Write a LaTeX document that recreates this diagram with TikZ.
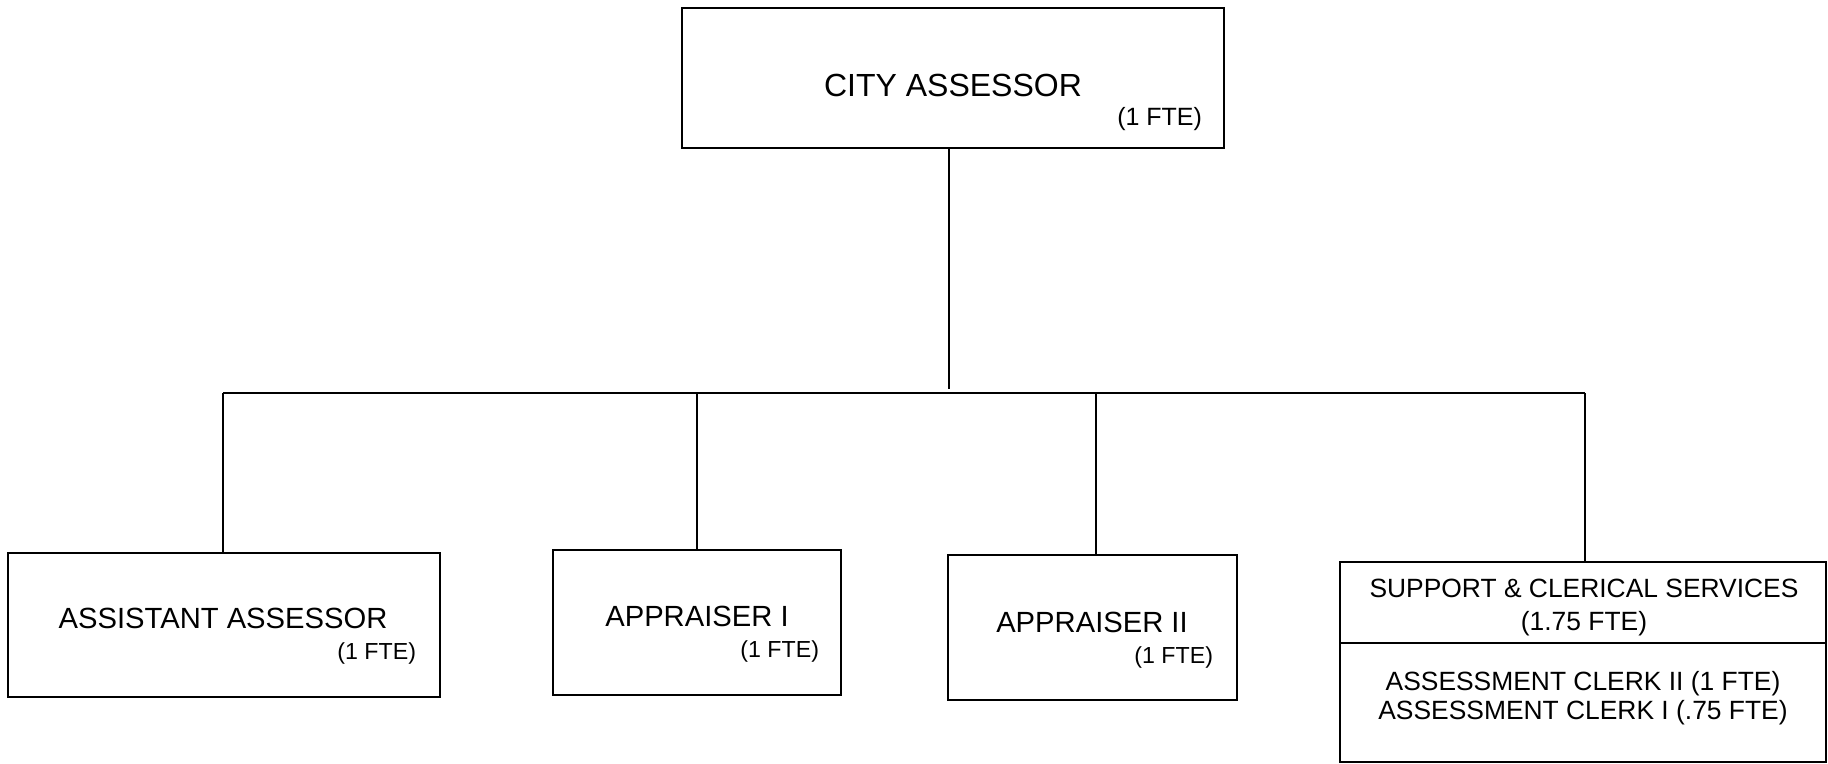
\documentclass[tikz,border=0pt]{standalone}
\usepackage{fontspec}
\setmainfont{Liberation Sans}
\begin{document}
\begin{tikzpicture}[x=0.5pt,y=-0.5pt,line width=1pt,
  box/.style={draw,rectangle,inner sep=0pt,line width=1pt},
  lbl/.style={inner sep=0pt,anchor=base},
  lble/.style={inner sep=0pt,anchor=base east},
  bigf/.style={font=\fontsize{16}{19}\selectfont},
  midf/.style={font=\fontsize{14.6}{17}\selectfont},
  supf/.style={font=\fontsize{13.2}{16}\selectfont},
  fteA/.style={font=\fontsize{12.5}{15}\selectfont},
  fteB/.style={font=\fontsize{11.6}{14}\selectfont}]
\useasboundingbox (0,0) rectangle (1828,764);
% boxes
\node[box,minimum width=271pt,minimum height=70pt] (city) at (953,78) {};
\node[box,minimum width=216pt,minimum height=72pt] (assist) at (224,625) {};
\node[box,minimum width=144pt,minimum height=72.5pt] (appI) at (697,622.5) {};
\node[box,minimum width=144.5pt,minimum height=72.5pt] (appII) at (1092.5,627.5) {};
\node[box,minimum width=243pt,minimum height=100pt] (sup) at (1583,662) {};
\draw (sup.west |- 0,643) -- (sup.east |- 0,643);
% texts
\node[lbl,bigf] (cityT) at (953,97) {CITY ASSESSOR};
\node[lble,fteA] (cityF) at (1203,126) {(1 FTE)};
\node[lbl,midf] (assistT) at (223,629) {ASSISTANT ASSESSOR};
\node[lble,fteB] (assistF) at (417,660) {(1 FTE)};
\node[lbl,midf] (appIT) at (697,627) {APPRAISER I};
\node[lble,fteB] (appIF) at (820,658) {(1 FTE)};
\node[lbl,midf] (appIIT) at (1092,633) {APPRAISER II};
\node[lble,fteB] (appIIF) at (1214,664) {(1 FTE)};
\node[lbl,supf] (supT1) at (1584,598) {SUPPORT \& CLERICAL SERVICES};
\node[lbl,supf] (supT2) at (1584,631) {(1.75 FTE)};
\node[lbl,supf] (clk2) at (1583,690) {ASSESSMENT CLERK II (1 FTE)};
\node[lbl,supf] (clk1) at (1583,719) {ASSESSMENT CLERK I (.75 FTE)};
% connectors
\coordinate (hub) at (949,389);
\coordinate (d1) at (223,393);
\coordinate (d2) at (697,393);
\coordinate (d3) at (1096,393);
\coordinate (d4) at (1585,393);
\draw (city.south -| hub) -- (hub);
\draw (d1) -- (d4);
\draw (d1) -- (d1 |- assist.north);
\draw (d2) -- (d2 |- appI.north);
\draw (d3) -- (d3 |- appII.north);
\draw (d4) -- (d4 |- sup.north);
\end{tikzpicture}
\end{document}
